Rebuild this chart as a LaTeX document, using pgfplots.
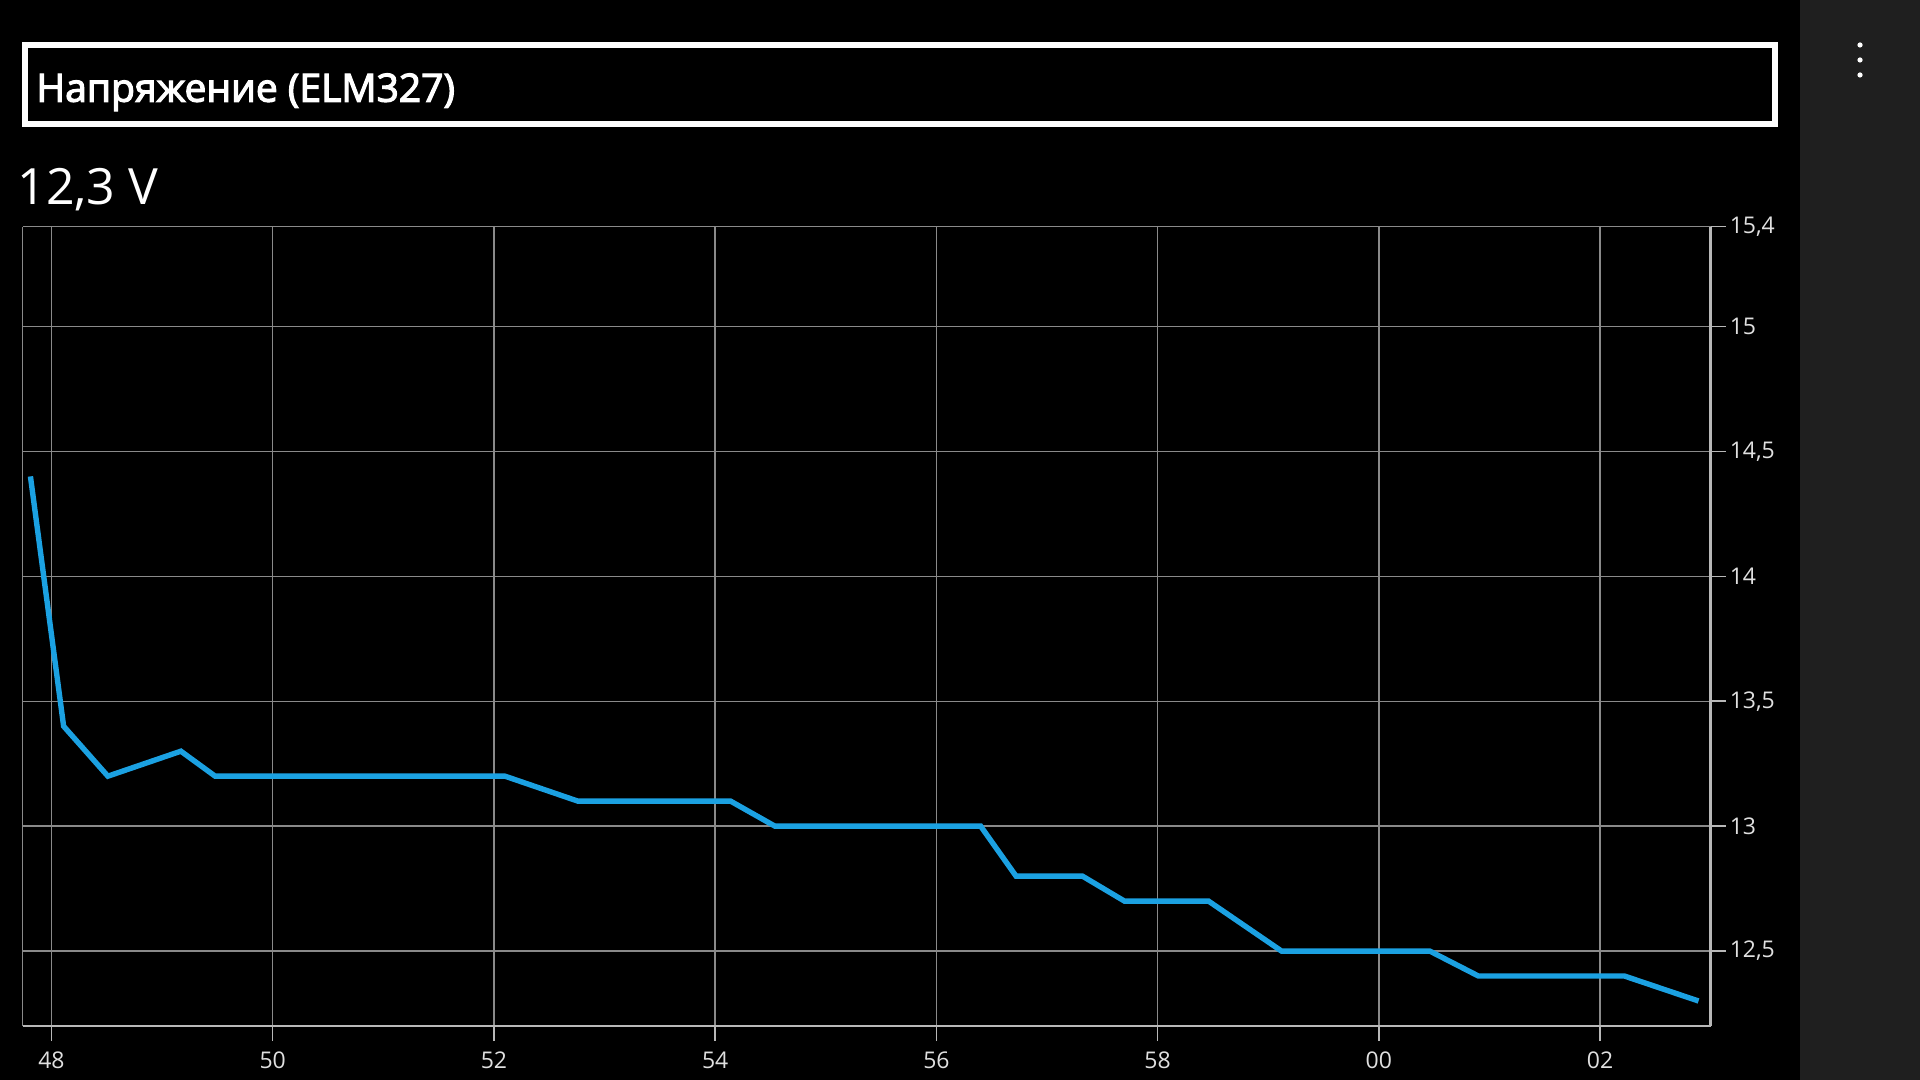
\documentclass[border=0pt]{standalone}
\usepackage{pgfplots}
\pgfplotsset{compat=1.18}
\usepackage{fontspec}
\setmainfont{Open Sans}
\newfontfamily\titlefont[FakeBold=3]{Open Sans}
\definecolor{wpblue}{HTML}{1BA1E2}
\definecolor{gridgray}{HTML}{8A8A8A}
\definecolor{axgray}{HTML}{B8B8B8}
\definecolor{lblgray}{HTML}{E0E0E0}
\definecolor{panel}{HTML}{1F1F1F}
\begin{document}
\begin{tikzpicture}[x=0.5pt,y=0.5pt]
% screen background and side panel
\fill[black] (0,0) rectangle (1800,1080);
\fill[panel] (1800,0) rectangle (1920,1080);
\path[use as bounding box] (0,0) rectangle (1920,1080);
\foreach \yy in {1035,1020,1005} \fill[white] (1860,\yy) circle (2.6);
% title box
\draw[white, line width=3pt] (25,1034.7) rectangle (1775,956.3);
\node[anchor=base west, inner sep=0, text=white, font=\fontsize{19.5}{24}\titlefont] at (36,978.3) {Напряжение (ELM327)};
\node[anchor=base west, inner sep=0, text=white, font=\fontsize{25}{30}\selectfont] at (17,875) {12,3 V};
\begin{axis}[
  at={(11.35pt,27pt)}, anchor=south west,
  scale only axis, width=844pt, height=399.7pt,
  xmin=47.74, xmax=63, ymin=12.2, ymax=15.4,
  axis x line*=bottom, axis y line*=right,
  axis line style={axgray, line width=1.3pt},
  xtick={48,50,52,54,56,58,60,62},
  xticklabels={48,50,52,54,56,58,00,02},
  ytick={12.5,13,13.5,14,14.5,15,15.4},
  yticklabels={{12,5},13,{13,5},14,{14,5},15,{15,4}},
  tick align=outside, major tick length=7.5pt,
  tick style={axgray, line width=0.8pt},
  grid=major, major grid style={gridgray, line width=0.7pt},
  ticklabel style={font=\fontsize{11.5}{14}\selectfont, text=lblgray},
  yticklabel style={xshift=-1.5pt},
  xticklabel style={yshift=-2pt},
  clip=false,
]
\draw[gridgray, line width=0.7pt] (axis cs:47.74,12.2) -- (axis cs:47.74,15.4);
\addplot[wpblue, line width=2.7pt] coordinates {
  (47.81,14.4)(48.11,13.4)(48.51,13.2)(49.17,13.3)(49.48,13.2)
  (52.10,13.2)(52.76,13.1)(54.14,13.1)(54.54,13.0)(56.40,13.0)
  (56.72,12.8)(57.32,12.8)(57.70,12.7)(58.46,12.7)(59.12,12.5)
  (60.46,12.5)(60.90,12.4)(62.22,12.4)(62.89,12.3)};
\end{axis}
\end{tikzpicture}
\end{document}
